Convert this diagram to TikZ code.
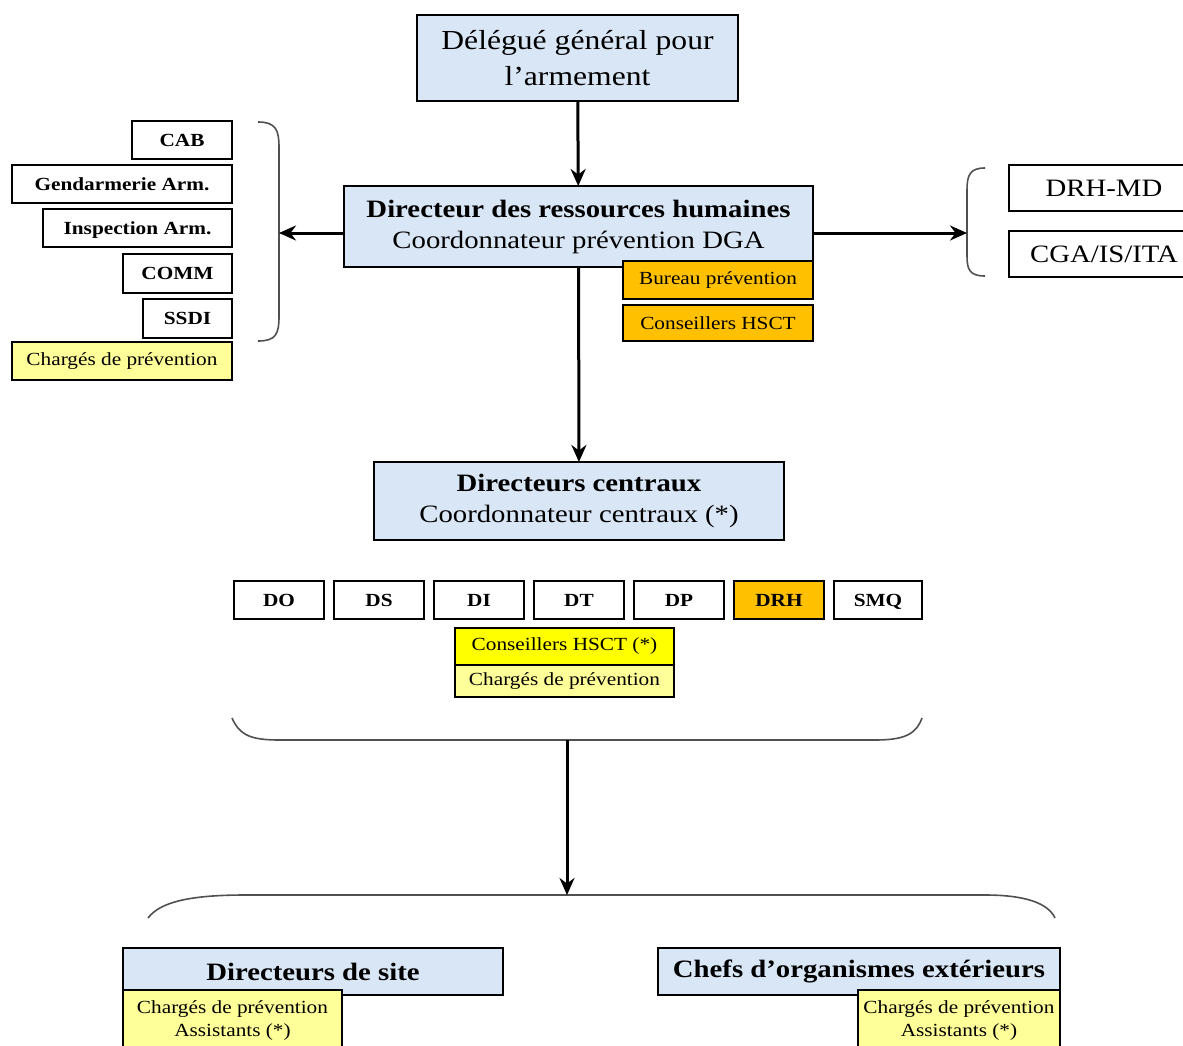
\documentclass[tikz,border=0pt]{standalone}
\usepackage{fontspec}
\setmainfont{Liberation Serif}[FakeStretch=1.15]
\usepackage{tikz}
\usetikzlibrary{arrows.meta,positioning}
\definecolor{bleuclair}{HTML}{D9E6F5}
\definecolor{orangeprev}{HTML}{FFC000}
\definecolor{jaunepale}{HTML}{FFFF99}
\definecolor{jaunevif}{HTML}{FFFF00}
\definecolor{grisaccolade}{HTML}{505050}
\newcommand{\taillegrande}{\fontsize{27.5}{36}\selectfont}
\newcommand{\taillemoyenne}{\fontsize{25}{31}\selectfont}
\newcommand{\taillepetite}{\fontsize{18.5}{23}\selectfont}
\tikzstyle{direction} = [rectangle, anchor=north west, inner sep=0pt, outer sep=0pt, align=center, draw=black, line width=1.2pt, fill=bleuclair]
\tikzstyle{service} = [rectangle, anchor=north west, inner sep=0pt, outer sep=0pt, minimum height=38pt, text height=12.5pt, text depth=0pt, font=\taillepetite\bfseries, draw=black, line width=1.2pt, fill=white]
\tikzstyle{prevention} = [rectangle, anchor=north west, inner sep=0pt, outer sep=0pt, align=center, font=\taillepetite, draw=black, line width=1.2pt, fill=jaunepale]
\tikzstyle{bureau} = [prevention, fill=orangeprev]
\tikzstyle{fleche} = [line width=3pt, -{Stealth[length=17pt,width=15pt]}]
\tikzstyle{accolade} = [line width=1.6pt, draw=grisaccolade]

\begin{document}
\begin{tikzpicture}[x=1pt, y=-1pt]
	\useasboundingbox (0,0) rectangle (1183,1046);
	\clip (0,0) rectangle (1183,1046);

	% niveau DGA
	\node (dga) [direction, minimum width=321pt, minimum height=86pt, font=\taillegrande] at (417,15) {Délégué général pour\\l’armement};
	\node (drh) [direction, minimum width=469pt, minimum height=81pt, font=\taillemoyenne] at (344,186) {{\bfseries Directeur des ressources humaines}\\Coordonnateur prévention DGA};
	\node (bureau) [bureau, minimum width=190pt, minimum height=38pt] at (623,261) {Bureau prévention};
	\node (hsct) [bureau, minimum width=190pt, minimum height=36pt] at (623,305) {Conseillers HSCT};

	% services rattaches (gauche)
	\node (cab) [service, anchor=north east, minimum width=100pt] at (232,121) {CAB};
	\node (gend) [service, anchor=north east, minimum width=220pt] at (232,165) {Gendarmerie Arm.};
	\node (insp) [service, anchor=north east, minimum width=189pt] at (232,209) {Inspection Arm.};
	\node (comm) [service, anchor=north east, minimum width=109pt, minimum height=39pt] at (232,254) {COMM};
	\node (ssdi) [service, anchor=north east, minimum width=89pt, minimum height=39pt] at (232,299) {SSDI};
	\node (chgauche) [prevention, anchor=north east, minimum width=220pt, minimum height=38pt] at (232,342) {Chargés de prévention};

	% droite
	\node (drhmd) [service, font=\taillemoyenne, text height=16.5pt, minimum width=190pt, minimum height=46pt] at (1009,165) {DRH-MD};
	\node (cga) [service, font=\taillemoyenne, text height=16.5pt, minimum width=190pt, minimum height=46pt] at (1009,231) {CGA/IS/ITA};

	% directions centrales
	\node (centraux) [direction, minimum width=410pt, minimum height=78pt, font=\taillemoyenne] at (374,462) {{\bfseries Directeurs centraux}\\Coordonnateur centraux (*)};
	\node (do) [service, minimum width=90pt] at (234,581) {DO};
	\node (ds) [service, minimum width=90pt, right=10pt of do] {DS};
	\node (di) [service, minimum width=90pt, right=10pt of ds] {DI};
	\node (dt) [service, minimum width=90pt, right=10pt of di] {DT};
	\node (dp) [service, minimum width=90pt, right=10pt of dt] {DP};
	\node (drhc) [service, fill=orangeprev, minimum width=90pt, right=10pt of dp] {DRH};
	\node (smq) [service, minimum width=88pt, right=10pt of drhc] {SMQ};
	\node (hsctc) [prevention, fill=jaunevif, minimum width=219pt, minimum height=37pt] at (455,628) {Conseillers HSCT (*)};
	\node (chcentre) [prevention, minimum width=219pt, minimum height=32pt] at (455,665) {Chargés de prévention};

	% sites
	\node (site) [direction, minimum width=380pt, minimum height=47pt, font=\taillemoyenne\bfseries] at (123,948) {Directeurs de site};
	\node (chsite) [prevention, minimum width=219pt, minimum height=62pt] at (123,990) {Chargés de prévention\\Assistants (*)};
	\node (orgext) [direction, minimum width=402pt, minimum height=47pt, font=\taillemoyenne\bfseries] at (658,948) {Chefs d’organismes extérieurs};
	\node (chorg) [prevention, minimum width=202pt, minimum height=62pt] at (858,990) {Chargés de prévention\\Assistants (*)};

	% accolades
	\coordinate (accg) at (279,233);
	\coordinate (accd) at (967,233);
	\coordinate (acccentre) at (567,740);
	\coordinate (accbas) at (567,895);
	\draw [accolade] (258,122) .. controls (276,122) and (279,130) .. (279,148) -- (279,316) .. controls (279,334) and (276,341) .. (258,341);
	\draw [accolade] (985,168) .. controls (970,168) and (967,175) .. (967,190) -- (967,256) .. controls (967,270) and (970,276) .. (985,276);
	\draw [accolade] (232,718) .. controls (240,736) and (252,740) .. (280,740) -- (875,740) .. controls (905,740) and (916,734) .. (922,718);
	\draw [accolade] (148,918) .. controls (160,902) and (190,895) .. (245,895) -- (985,895) .. controls (1025,895) and (1048,903) .. (1055,918);

	\draw [fleche] (dga) -- (drh);
	\draw [fleche] (drh) -- (centraux);
	\draw [fleche] (drh.west |- accg) -- (accg);
	\draw [fleche] (drh.east |- accd) -- (accd);
	\draw [fleche] (acccentre) -- (accbas);
\end{tikzpicture}
\end{document}
